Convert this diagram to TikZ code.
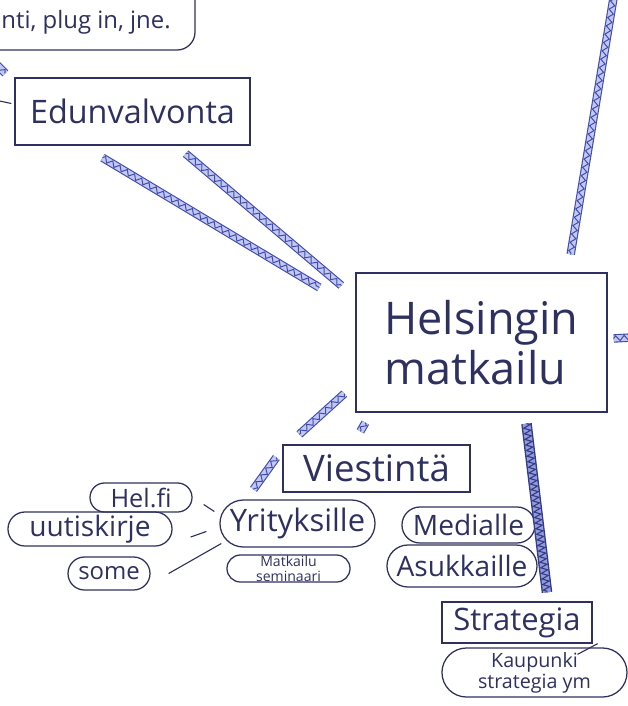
\documentclass[tikz,border=0pt]{standalone}
\usepackage{fontspec}
\setmainfont{Open Sans}
\usetikzlibrary{calc,shapes.misc,decorations.pathmorphing}
\definecolor{ink}{HTML}{2E3160}
\definecolor{pen}{HTML}{3F4BB2}
\definecolor{penfill}{HTML}{C3C8EE}
\tikzset{
	rect/.style={draw=ink, line width=0.9pt, text=ink, inner sep=0pt},
	oval/.style={rect, rounded rectangle},
	link/.style={draw=ink, line width=0.8pt},
	hatch/.style={draw=pen, line width=6pt,
		postaction={draw=penfill, line width=4.4pt},
		postaction={draw=pen, line width=0.7pt, decorate, decoration={zigzag, segment length=6pt, amplitude=1.8pt}}},
	thickhatch/.style={draw=pen!80!black, line width=7.5pt,
		postaction={draw=pen!55, line width=5.5pt},
		postaction={draw=pen!80!black, line width=0.8pt, decorate, decoration={zigzag, segment length=4pt, amplitude=2.4pt}}},
}
\begin{document}
\begin{tikzpicture}[x=0.025cm, y=-0.025cm]
	\useasboundingbox (0,0) rectangle (628,706);
	\clip (0,0) rectangle (628,706);

	\node[rect, rounded corners=0.45cm, minimum width=6.375cm, minimum height=2.35cm] (web) at (67.5,3) {};
	\node[text=ink, font=\fontsize{17}{20}\selectfont] (plug) at (86,22) {nti, plug in, jne.};
	\node[rect, minimum width=5.875cm, minimum height=1.675cm, font=\fontsize{23}{26}\selectfont] (edu) at (132.5,111.5) {Edunvalvonta};
	\node[rect, minimum width=6.275cm, minimum height=3.475cm, align=left, font=\fontsize{32}{36}\selectfont] (hki) at (481.5,342.5) {Helsingin\\matkailu};
	\node[rect, minimum width=4.675cm, minimum height=1.175cm, font=\fontsize{26}{28}\selectfont] (vie) at (376.5,468.5) {Viestintä};
	\node[oval, minimum width=3.875cm, minimum height=1.175cm, font=\fontsize{22}{24}\selectfont] (yri) at (297.5,523.5) {Yrityksille};
	\node[oval, minimum width=3.075cm, minimum height=0.675cm, align=center, font=\fontsize{10}{10.5}\selectfont] (sem) at (288.5,568.5) {Matkailu\\seminaari};
	\node[oval, minimum width=2.55cm, minimum height=0.725cm, font=\fontsize{18}{20}\selectfont] (helfi) at (141,497.5) {Hel.fi};
	\node[oval, minimum width=4.1cm, minimum height=0.85cm, font=\fontsize{20}{22}\selectfont] (uut) at (90,529) {uutiskirje};
	\node[oval, minimum width=2.05cm, minimum height=0.825cm, font=\fontsize{17}{20}\selectfont] (some) at (109,573.5) {some};
	\node[oval, minimum width=3.325cm, minimum height=0.9cm, font=\fontsize{20}{22}\selectfont] (med) at (468.5,525) {Medialle};
	\node[oval, minimum width=3.75cm, minimum height=1.05cm, font=\fontsize{20}{22}\selectfont] (asu) at (462,566) {Asukkaille};
	\node[rect, minimum width=3.75cm, minimum height=1.025cm, font=\fontsize{22}{24}\selectfont] (str) at (517,622.5) {Strategia};
	\node[oval, minimum width=4.625cm, minimum height=1.225cm, align=center, font=\fontsize{14}{15}\selectfont] (kau) at (534.5,672.5) {Kaupunki\\strategia ym};

	\coordinate (nw) at (-10,58);
	\coordinate (w) at (-5,100);
	\coordinate (ne) at (614,-5);
	\coordinate (e) at (640,337);

	\draw[hatch] (nw) -- ($(edu.north west)+(-9,-4)$);
	\draw[link] (w) -- ($(edu.west)+(-3,-8)$);
	\draw[hatch] ($(edu.south)+(-30,12)$) -- ($(hki.west)+(-36,-55)$);
	\draw[hatch] ($(edu.south east)+(-65,8)$) -- ($(hki.west)+(-14,-57)$);
	\draw[hatch] (ne) -- ($(hki.north east)+(-37,-18)$);
	\draw[hatch] ($(hki.east)+(6,-4)$) -- (e);
	\draw[hatch] ($(hki.south west)+(-11,-19)$) -- ($(vie.north west)+(17,-10)$);
	\draw[hatch] ($(hki.south west)+(10,10)$) -- ($(vie.north west)+(78,-13)$);
	\draw[hatch] ($(vie.west)+(-6,-11)$) -- ($(yri.north)+(-44,-10)$);
	\draw[thickhatch] ($(hki.south)+(45,11)$) -- ($(str.north)+(30,-9)$);
	\draw[link] ($(helfi.east)+(11,7)$) -- ($(yri.west)+(-5,-12)$);
	\draw[link] ($(uut.east)+(18,8)$) -- ($(yri.west)+(-13,8)$);
	\draw[link] ($(some.east)+(18,0)$) -- ($(yri.west)+(2,20)$);
	\draw[link] ($(str.south east)+(5,0)$) -- ($(kau.north east)+(-25,7)$);
\end{tikzpicture}
\end{document}
